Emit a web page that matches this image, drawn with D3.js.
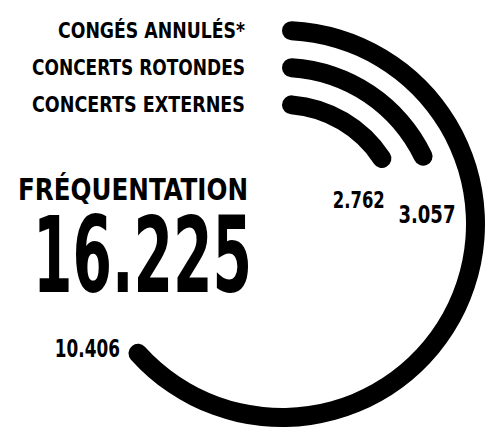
<!DOCTYPE html>
<html>
<head>
<meta charset="utf-8">
<script src="https://cdn.jsdelivr.net/npm/d3@7"></script>
<style>
  body { margin: 0; background: #fff; }
  text { font-family: "Liberation Sans Narrow", "DejaVu Sans Condensed", "Roboto", sans-serif; font-weight: bold; fill: #000; }
</style>
</head>
<body>
<div id="visualization"></div>
<script>
// data
var categories = ["CONGÉS ANNULÉS*", "CONCERTS ROTONDES", "CONCERTS EXTERNES"];
var values = [10406, 3057, 2762];
var valueLabels = ["10.406", "3.057", "2.762"];
var totalLabel = "16.225";
var title = "FRÉQUENTATION";

var width = 486, height = 432;
var cx = 282, cy = 224;

var svg = d3.select("div#visualization")
  .append("svg")
  .attr("width", width)
  .attr("height", height);

var total = d3.sum(values);

// ring radius per category, outer ring first
var radius = d3.scaleBand()
  .domain(categories)
  .range([203, 110])
  .paddingInner(18 / 37)
  .paddingOuter(0);

var angle = d3.scaleLinear()
  .domain([0, total])
  .range([0, 2 * Math.PI]);

var arc = d3.arc()
  .innerRadius(function(d) { return radius(d.cat); })
  .outerRadius(function(d) { return radius(d.cat) + radius.bandwidth(); })
  .startAngle(0)
  .endAngle(function(d) { return angle(d.value); })
  .cornerRadius(radius.bandwidth() / 2);

var rows = categories.map(function(c, i) {
  return {cat: c, value: values[i], label: valueLabels[i]};
});

var g = svg.append("g").attr("transform", "translate(" + cx + "," + cy + ")");

g.selectAll("path.ring")
  .data(rows)
  .enter().append("path")
  .attr("class", "ring")
  .attr("d", arc)
  .style("fill", "#000");

// category names, right aligned at x = -37, next to the start of each ring
var nameWidths = [187, 213, 213];
g.selectAll("text.name")
  .data(rows)
  .enter().append("text")
  .attr("class", "name")
  .attr("x", function(d, i) { return -37 - nameWidths[i]; })
  .attr("y", function(d) { return -(radius(d.cat) + radius.bandwidth() / 2) + 7; })
  .attr("font-size", 20.5)
  .attr("textLength", function(d, i) { return nameWidths[i]; })
  .attr("lengthAdjust", "spacingAndGlyphs")
  .text(function(d) { return d.cat; });

// value labels near the end of each ring (dx = left edge offset)
var labelStyle = [
  {dx: -77, dy: 11, size: 25, w: 65},
  {dx: -28.5, dy: 58, size: 24.5, w: 57},
  {dx: -54, dy: 41, size: 23.5, w: 52}
];
function endPoint(d) {
  var a = angle(d.value);
  var r = radius(d.cat) + radius.bandwidth() / 2;
  return [r * Math.sin(a), -r * Math.cos(a)];
}
g.selectAll("text.value")
  .data(rows)
  .enter().append("text")
  .attr("class", "value")
  .attr("x", function(d, i) { return endPoint(d)[0] + labelStyle[i].dx; })
  .attr("y", function(d, i) { return endPoint(d)[1] + labelStyle[i].dy; })
  .attr("font-size", function(d, i) { return labelStyle[i].size; })
  .attr("textLength", function(d, i) { return labelStyle[i].w; })
  .attr("lengthAdjust", "spacingAndGlyphs")
  .text(function(d) { return d.label; });

// title and total
svg.append("text")
  .attr("x", 18)
  .attr("y", 200)
  .attr("font-size", 30)
  .attr("textLength", 230)
  .attr("lengthAdjust", "spacingAndGlyphs")
  .text(title);

svg.append("text")
  .attr("x", 33)
  .attr("y", 292)
  .attr("font-size", 106)
  .attr("textLength", 219)
  .attr("lengthAdjust", "spacingAndGlyphs")
  .text(totalLabel);
</script>
</body>
</html>
